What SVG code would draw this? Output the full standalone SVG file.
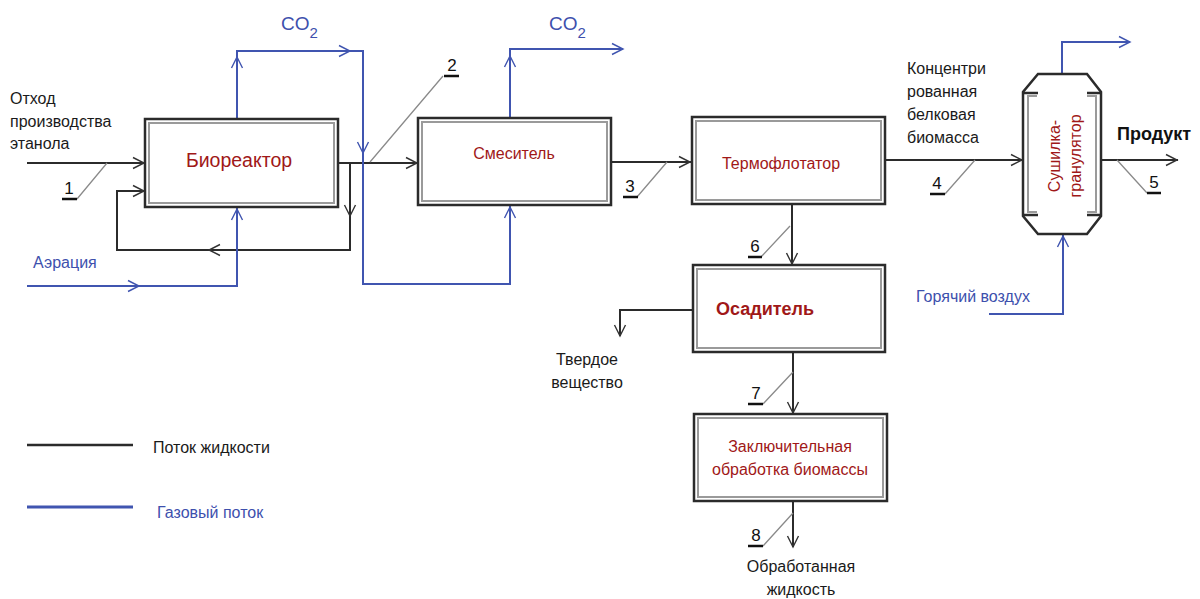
<svg xmlns="http://www.w3.org/2000/svg" width="1200" height="599" viewBox="0 0 1200 599">
<style>
text{font-family:"Liberation Sans",Arial,sans-serif;}
.t{font-size:16px;fill:#1a1a1a;}
.r{fill:#a01818;}
.b{fill:#3d50ad;}
.num{font-size:17px;fill:#111;text-anchor:middle;}
.lk{fill:none;stroke:#2b2b2b;stroke-width:2;}
.lb{fill:none;stroke:#4055b0;stroke-width:2;}
.ak{fill:none;stroke:#333;stroke-width:1.4;}
.ab{fill:none;stroke:#4055b0;stroke-width:1.4;}
.box{fill:#fff;stroke:#2b2b2b;stroke-width:2.5;}
.inb{fill:none;stroke:#9a9a9a;stroke-width:2;}
.dg{stroke:#8a8a8a;stroke-width:1.3;fill:none;}
.ul{stroke:#111;stroke-width:2.5;}
</style>
<rect width="1200" height="599" fill="#fff"/>

<g id="connectors">
  <!-- black flows -->
  <path class="lk" d="M27,163 H145"/>
  <path class="ak" d="M133,157.5 L144,163 L133,168.5"/>
  <path class="lk" d="M338,163 H418"/>
  <path class="ak" d="M406,157.5 L417,163 L406,168.5"/>
  <path class="lk" d="M350,163 V250 H117 V191 H145"/>
  <path class="ak" d="M133,185.5 L144,191 L133,196.5"/>
  <path class="ak" d="M344.5,205 L350,216 L355.5,205"/>
  <path class="ak" d="M220,244.5 L209,250 L220,255.5"/>
  <path class="lk" d="M611,162 H691"/>
  <path class="ak" d="M679,156.5 L690,162 L679,167.5"/>
  <path class="lk" d="M885,160 H1023"/>
  <path class="ak" d="M1011,154.5 L1022,160 L1011,165.5"/>
  <path class="lk" d="M1101,160 H1178"/>
  <path class="ak" d="M1166,154.5 L1177,160 L1166,165.5"/>
  <path class="lk" d="M792,204 V265"/>
  <path class="ak" d="M786.5,253 L792,264 L797.5,253"/>
  <path class="lk" d="M693,310 H620 V336"/>
  <path class="ak" d="M614.5,325 L620,336 L625.5,325"/>
  <path class="lk" d="M793,352 V414"/>
  <path class="ak" d="M787.5,402 L793,413 L798.5,402"/>
  <path class="lk" d="M793,501 V547"/>
  <path class="ak" d="M787.5,536 L793,547 L798.5,536"/>
  <!-- gas flows -->
  <path class="lb" d="M27,286 H237 V208"/>
  <path class="ab" d="M128,280.5 L139,286 L128,291.5"/>
  <path class="ab" d="M231.5,220 L237,209 L242.5,220"/>
  <path class="lb" d="M237,119 V51 H363 V284 H510 V206"/>
  <path class="ab" d="M231.5,68 L237,57 L242.5,68"/>
  <path class="ab" d="M339,45.5 L350,51 L339,56.5"/>
  <path class="ab" d="M357.5,142 L363,153 L368.5,142"/>
  <path class="ab" d="M504.5,218 L510,207 L515.5,218"/>
  <path class="lb" d="M510,118 V49 H623"/>
  <path class="ab" d="M504.5,67 L510,56 L515.5,67"/>
  <path class="ab" d="M612,43.5 L623,49 L612,54.5"/>
  <path class="lb" d="M1062,74 V42 H1130"/>
  <path class="ab" d="M1119,36.5 L1130,42 L1119,47.5"/>
  <path class="lb" d="M989,314 H1063 V235"/>
  <path class="ab" d="M1057.5,247 L1063,236 L1068.5,247"/>
</g>

<g id="node-bioreactor">
  <rect class="box" x="145" y="119" width="193" height="88"/>
  <rect class="inb" x="149" y="123" width="185" height="80"/>
  <text x="239" y="167" font-size="19.5" text-anchor="middle" class="r">Биореактор</text>
</g>
<g id="node-mixer">
  <rect class="box" x="418" y="118" width="193" height="87"/>
  <rect class="inb" x="422" y="122" width="185" height="79"/>
  <text x="514" y="159" font-size="16" text-anchor="middle" class="r">Смеситель</text>
</g>
<g id="node-thermoflotator">
  <rect class="box" x="692" y="117" width="193" height="87"/>
  <rect class="inb" x="696" y="121" width="185" height="79"/>
  <text x="781" y="169" font-size="16" text-anchor="middle" class="r">Термофлотатор</text>
</g>
<g id="node-settler">
  <rect class="box" x="693" y="265" width="192" height="87"/>
  <rect class="inb" x="697" y="269" width="184" height="79"/>
  <text x="765" y="315" font-size="18" font-weight="bold" text-anchor="middle" class="r">Осадитель</text>
</g>
<g id="node-final">
  <rect class="box" x="694" y="414" width="193" height="87"/>
  <rect class="inb" x="698" y="418" width="185" height="79"/>
  <text x="790" y="452" font-size="16" text-anchor="middle" class="r">Заключительная</text>
  <text x="790" y="475" font-size="16" text-anchor="middle" class="r">обработка биомассы</text>
</g>
<g id="node-dryer">
  <path d="M1038,74 L1087,74 L1101,92 L1101,216 L1087,234 L1038,234 L1023,216 L1023,92 Z" fill="#fff" stroke="#2b2b2b" stroke-width="2.5"/>
  <path d="M1023,93 H1038 M1087,93 H1101 M1023,215 H1038 M1087,215 H1101" stroke="#2b2b2b" stroke-width="2.5"/>
  <path d="M1037,96 H1028 V212 H1037 M1087,96 H1096 V212 H1087" fill="none" stroke="#9a9a9a" stroke-width="2"/>
  <text transform="translate(1060,156) rotate(-90)" font-size="16" text-anchor="middle" class="r">Сушилка-</text>
  <text transform="translate(1081,156) rotate(-90)" font-size="16" text-anchor="middle" class="r">гранулятор</text>
</g>

<g id="stream-labels">
  <path class="dg" d="M107,163 L77,199 M370,162 L443,76 M667,162 L637,197 M975,160 L945,194 M1117,160 L1147,193 M790,226 L761,257 M793,372 L763,404 M793,513 L763,546"/>
  <path class="ul" d="M62,199 H77 M444,76 H459 M623,197 H638 M930,194 H945 M1147,193 H1161 M748,257 H762 M748,404 H763 M748,546 H763"/>
  <text class="num" x="69" y="194">1</text>
  <text class="num" x="452" y="71">2</text>
  <text class="num" x="630" y="192">3</text>
  <text class="num" x="937" y="189">4</text>
  <text class="num" x="1154" y="188">5</text>
  <text class="num" x="755" y="252">6</text>
  <text class="num" x="756" y="399">7</text>
  <text class="num" x="756" y="541">8</text>
</g>

<g id="texts">
  <text class="t" x="10" y="104">Отход</text>
  <text class="t" x="10" y="127">производства</text>
  <text class="t" x="10" y="149">этанола</text>
  <text x="33" y="268" font-size="16" class="b">Аэрация</text>
  <text x="281" y="30" font-size="19" class="b">CO<tspan font-size="15" dy="8">2</tspan></text>
  <text x="549" y="30" font-size="19" class="b">CO<tspan font-size="15" dy="8">2</tspan></text>
  <text class="t" x="907" y="74">Концентри</text>
  <text class="t" x="907" y="97">рованная</text>
  <text class="t" x="907" y="120">белковая</text>
  <text class="t" x="907" y="143">биомасса</text>
  <text x="1117" y="140" font-size="18" font-weight="bold" fill="#111">Продукт</text>
  <text x="916" y="302" font-size="16" class="b">Горячий воздух</text>
  <text class="t" x="587" y="365" text-anchor="middle">Твердое</text>
  <text class="t" x="587" y="388" text-anchor="middle">вещество</text>
  <text class="t" x="801" y="572" text-anchor="middle">Обработанная</text>
  <text class="t" x="801" y="595" text-anchor="middle">жидкость</text>
</g>

<g id="legend">
  <line x1="27" y1="445" x2="133" y2="445" stroke="#2b2b2b" stroke-width="2.5"/>
  <text class="t" x="153" y="453">Поток жидкости</text>
  <line x1="27" y1="507" x2="133" y2="507" stroke="#4055b0" stroke-width="3"/>
  <text x="157" y="518" font-size="16" class="b">Газовый поток</text>
</g>
</svg>
